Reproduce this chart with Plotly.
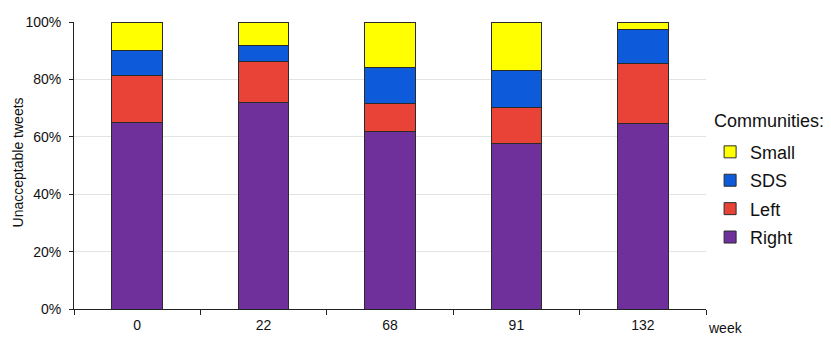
import plotly.graph_objects as go

weeks = ["0", "22", "68", "91", "132"]
right = [65.0, 72.0, 61.8, 57.8, 64.8]
left = [16.4, 14.3, 9.8, 12.5, 20.8]
sds = [8.7, 5.4, 12.7, 12.9, 11.9]
small = [9.9, 8.3, 15.7, 16.8, 2.5]
y_ticks = [0, 20, 40, 60, 80, 100]
y_labels = ["0%", "20%", "40%", "60%", "80%", "100%"]

series = [
    ("Right", right, "#70309c", 4),
    ("Left", left, "#e84336", 3),
    ("SDS", sds, "#0d5bdb", 2),
    ("Small", small, "#ffff00", 1),
]

fig = go.Figure()

for name, vals, color, rank in series:
    fig.add_trace(go.Bar(
        x = weeks,
        y = vals,
        name = name,
        legendgroup = name,
        legendrank = rank,
        width = 0.4,
        marker = dict(color=color, line=dict(color="#2a2a2a", width=1))))

# page body has an 8px margin, so margins are shifted to compensate
fig.update_layout(
    barmode = "stack",
    width = 831, height = 352,
    margin = dict(l=66, r=133, t=14, b=51, autoexpand=False),
    plot_bgcolor = "white",
    paper_bgcolor = "white",
    font = dict(family="Liberation Sans, Arial, sans-serif", size=14, color="#111"),
    xaxis = dict(
        type="category", automargin=False,
        showline=True, linecolor="#222", linewidth=1,
        ticks="outside", ticklen=5, tickcolor="#222",
        ticklabelstandoff=3,
        tickson="boundaries", showgrid=False),
    yaxis = dict(
        range=[0, 100], tickvals=y_ticks, ticktext=y_labels,
        automargin=False,
        showline=True, linecolor="#222", linewidth=1,
        ticks="outside", ticklen=4, tickcolor="#222",
        ticklabelstandoff=5,
        gridcolor="#e3e3e3", gridwidth=1),
    legend = dict(
        x=1.0065, y=0.611, xanchor="left", yanchor="top",
        traceorder="grouped",
        font=dict(size=18),
        itemwidth=30, tracegroupgap=2),
    bargap = 0.6)

fig.add_annotation(
    text="Unacceptable tweets", xref="paper", yref="paper", x=-0.089, y=0.51,
    xanchor="center", yanchor="middle", textangle=-90, showarrow=False,
    font=dict(size=14))

fig.add_annotation(
    text="Communities:", xref="paper", yref="paper", x=1.0095, y=0.655,
    xanchor="left", yanchor="middle", showarrow=False, font=dict(size=18))

fig.add_annotation(
    text="week", xref="paper", yref="paper", x=1.0, y=-0.03,
    xanchor="left", yanchor="top", showarrow=False, font=dict(size=14))

fig.write_html("out.html")
